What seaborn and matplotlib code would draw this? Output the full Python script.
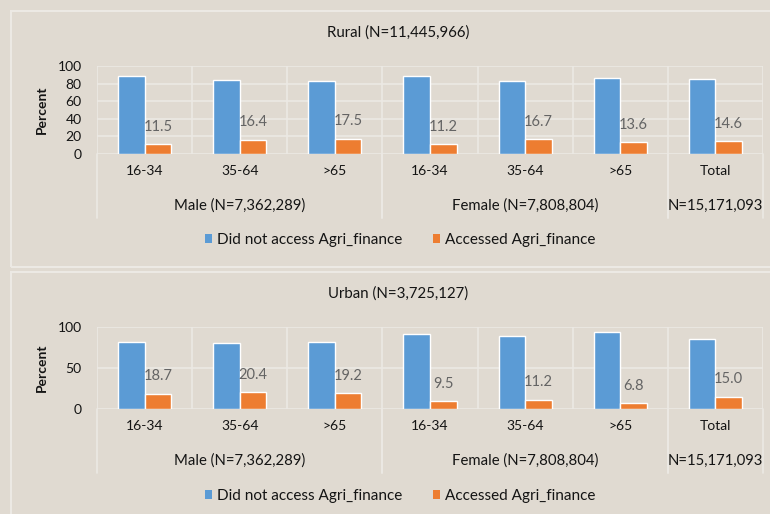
import pandas as pd
import matplotlib.pyplot as plt
import seaborn as sns
from matplotlib.patches import Rectangle, Patch

# Data
categories = ['M 16-34', 'M 35-64', 'M >65', 'F 16-34', 'F 35-64', 'F >65', 'Total']
tick_labels = ['16-34', '35-64', '>65', '16-34', '35-64', '>65', 'Total']
group_labels = ['Male (N=7,362,289)', 'Female (N=7,808,804)', 'N=15,171,093']
group_spans = [(0, 2), (3, 5), (6, 6)]
series = ['Did not access Agri_finance', 'Accessed Agri_finance']

rural_not = [88.5, 83.6, 82.5, 88.8, 83.3, 86.4, 85.4]
rural_acc = [11.5, 16.4, 17.5, 11.2, 16.7, 13.6, 14.6]
urban_not = [81.3, 79.6, 80.8, 90.5, 88.8, 93.2, 85.0]
urban_acc = [18.7, 20.4, 19.2, 9.5, 11.2, 6.8, 15.0]

W, H = 770, 514
bg = '#e0dad1'
line_c = '#ece9e4'
txt_c = '#141414'
colors = {series[0]: '#5b9bd5', series[1]: '#ed7d31'}

sns.set_style('white')
plt.rcParams['font.family'] = ['Lato', 'DejaVu Sans']


def fx(px):
    return px / W


def fy(py):
    return 1 - py / H


fig = plt.figure(figsize=(W / 100, H / 100), dpi=100)
fig.patch.set_facecolor(bg)

# panel frames
fig.patches.append(Rectangle((fx(11), fy(267)), 1, fy(11) - fy(267), transform=fig.transFigure,
                             fill=False, edgecolor=line_c, lw=1.5))
fig.patches.append(Rectangle((fx(11), -0.1), 1, fy(272) + 0.1, transform=fig.transFigure,
                             fill=False, edgecolor=line_c, lw=1.5))


def draw_panel(top, bottom, title, title_y, legend_y, not_vals, acc_vals, yticks):
    ax = fig.add_axes([fx(97), fy(bottom), fx(763) - fx(97), fy(top) - fy(bottom)])
    ax.set_facecolor('none')
    h_px = bottom - top

    df = pd.DataFrame({
        'category': categories * 2,
        'series': [series[0]] * len(categories) + [series[1]] * len(categories),
        'value': not_vals + acc_vals,
    })
    sns.barplot(data=df, x='category', y='value', hue='series', order=categories,
                hue_order=series, palette=colors, width=0.56, saturation=1,
                legend=False, ax=ax, zorder=3)

    ax.set_xlim(-0.5, len(categories) - 0.5)
    ax.set_ylim(0, 100)
    ax.set_yticks(yticks)
    for y in yticks:
        ax.axhline(y, color=line_c, lw=1.2, zorder=1)
    for x in range(len(categories) + 1):
        ax.axvline(x - 0.5, color=line_c, lw=1.2, zorder=1)
    sns.despine(ax=ax, left=True, bottom=True)

    ax.set_xticks(range(len(categories)))
    ax.set_xticklabels(tick_labels)
    ax.tick_params(axis='x', length=0, pad=8, labelsize=10, labelcolor=txt_c)
    ax.tick_params(axis='y', length=0, pad=11, labelsize=10, labelcolor=txt_c)
    ax.set_xlabel('')
    ax.set_ylabel('')

    # data labels on the accessed bars
    for bar, v in zip(ax.containers[1], acc_vals):
        ax.annotate(f'{v:.1f}', xy=(bar.get_x() + bar.get_width() / 2, bar.get_height()),
                    xytext=(0, 12.5), textcoords='offset points', ha='center', va='center',
                    fontsize=10.5, color='#646464', zorder=4)

    # group separators and group labels below the axis
    for a, b in group_spans:
        for x in (a - 0.5, b + 0.5):
            ax.plot([x, x], [0, -64 / h_px], transform=ax.get_xaxis_transform(),
                    clip_on=False, color=line_c, lw=1.2)
    for (a, b), lab in zip(group_spans, group_labels):
        ax.annotate(lab, xy=((a + b) / 2, 0), xycoords=('data', 'axes fraction'),
                    xytext=(0, -52 * 0.72), textcoords='offset points',
                    ha='center', va='center', fontsize=10.7, color=txt_c)

    fig.text(fx(42), fy((top + bottom) / 2), 'Percent', rotation=90, ha='center', va='center',
             fontsize=10, fontweight='bold', color=txt_c)
    fig.text(fx(398), fy(title_y), title, ha='center', va='center', fontsize=10.8, color=txt_c)

    handles = [Patch(facecolor=colors[s], edgecolor='none') for s in series]
    fig.legend(handles, series, loc='center', bbox_to_anchor=(fx(400), fy(legend_y)), ncol=2,
               frameon=False, handlelength=0.45, handleheight=0.45, handletextpad=0.35,
               columnspacing=2.0, fontsize=11, labelcolor=txt_c)
    return ax


draw_panel(66, 154, 'Rural (N=11,445,966)', 33, 240, rural_not, rural_acc, [0, 20, 40, 60, 80, 100])
draw_panel(326.5, 409, 'Urban (N=3,725,127)', 294, 496, urban_not, urban_acc, [0, 50, 100])

plt.savefig('out.png', dpi=100, facecolor=bg)
